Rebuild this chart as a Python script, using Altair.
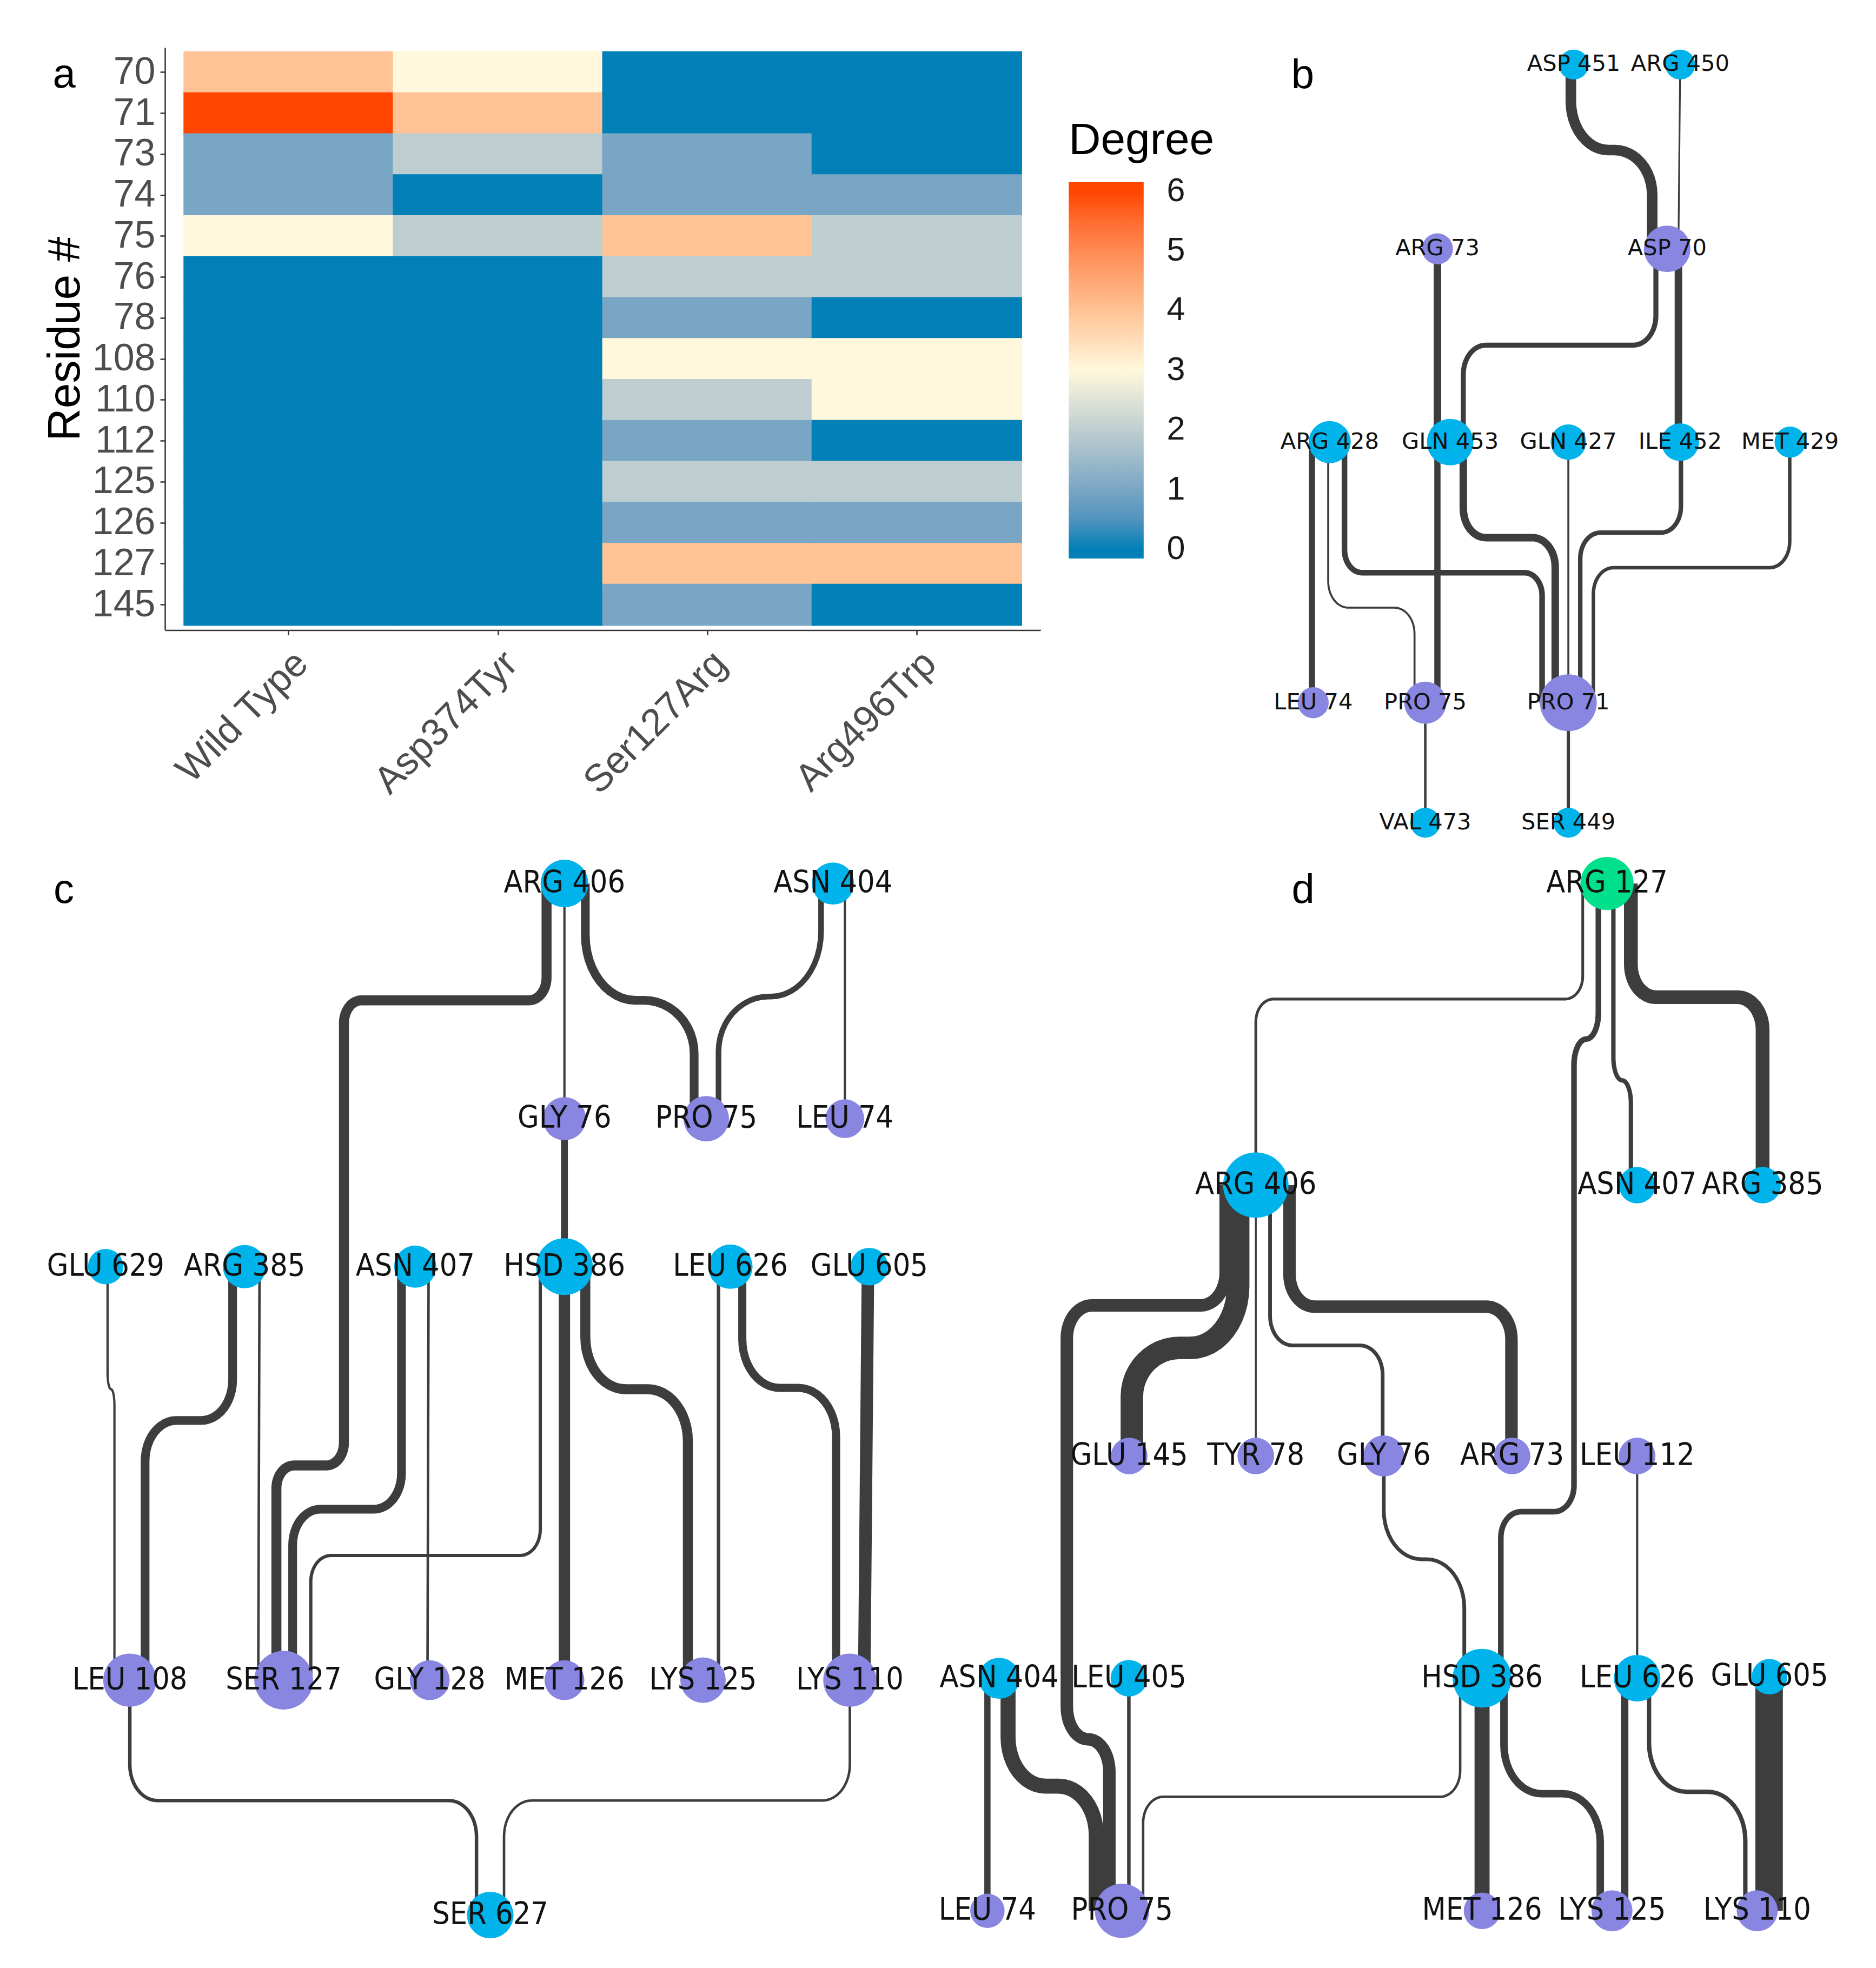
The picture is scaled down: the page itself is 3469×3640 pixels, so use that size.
import math
import altair as alt
import pandas as pd

# ---------------- geometry of the page (reference pixels / 2.3127 = "display units")
K = 2.3127
W, H = 3453, 3624
X0, X1 = 8 / K, (8 + W) / K
Y0, Y1 = 8 / K, (8 + H) / K


def PX(v):
    return (v - X0) * K


def PY(v):
    return (v - Y0) * K


FONT_A = "Liberation Sans, Arial, sans-serif"
FONT_B = "DejaVu Sans, Verdana, sans-serif"
FONT_CD = "DejaVu Sans Condensed, Liberation Sans Narrow, DejaVu Sans, sans-serif"
BLUE, PURPLE, GREEN = "#00B4EB", "#8886E0", "#00E08C"
EDGE = "#3D3D3D"

# ---------------- panel a : heat map data
variants = ["Wild Type", "Asp374Tyr", "Ser127Arg", "Arg496Trp"]
residues = ["70", "71", "73", "74", "75", "76", "78", "108", "110", "112", "125", "126", "127", "145"]
deg_wild_type = [4, 6, 1, 1, 3, 0, 0, 0, 0, 0, 0, 0, 0, 0]
deg_asp374tyr = [3, 4, 2, 0, 2, 0, 0, 0, 0, 0, 0, 0, 0, 0]
deg_ser127arg = [0, 0, 1, 1, 4, 2, 1, 3, 2, 1, 2, 1, 4, 1]
deg_arg496trp = [0, 0, 0, 1, 2, 2, 0, 3, 3, 0, 2, 1, 4, 0]
legend_values = [0, 1, 2, 3, 4, 5, 6]

# ---------------- panel b : network
b_names = ["ASP 451", "ARG 450", "ARG 73", "ASP 70", "ARG 428", "GLN 453", "GLN 427",
           "ILE 452", "MET 429", "LEU 74", "PRO 75", "PRO 71", "VAL 473", "SER 449"]
b_x = [1258.3, 1343.4, 1149.3, 1333.0, 1063.2, 1159.5, 1254.0, 1343.4, 1431.3, 1050.0, 1139.6, 1254.0, 1139.6, 1254.0]
b_y = [51.6, 51.6, 199.0, 199.0, 353.6, 353.6, 353.6, 353.6, 353.6, 562.0, 562.0, 562.0, 658.0, 658.0]
b_r = [13.5, 13.5, 14, 21, 19, 21, 16, 17, 14, 14, 19, 25.6, 13.5, 13.5]
b_kind = ["B", "B", "P", "P", "B", "B", "B", "B", "B", "P", "P", "P", "B", "B"]
# (source, target, x of each vertical run, y of each horizontal run, width, corner radius)
b_edges = [
    ("ASP 451", "ASP 70", [1256, 1321], [120], 8.5, 30),
    ("ARG 450", "ASP 70", [1343.4, 1342], [], 1.4, 0),
    ("ARG 73", "GLN 453", [1149.3], [], 6, 0),
    ("ASP 70", "GLN 453", [1324, 1170], [276], 4, 18),
    ("ASP 70", "ILE 452", [1342], [], 6, 0),
    ("ARG 428", "LEU 74", [1049], [], 5, 0),
    ("ARG 428", "PRO 75", [1062, 1131], [486], 1.6, 16),
    ("ARG 428", "PRO 71", [1075, 1233], [458], 4.5, 14),
    ("GLN 453", "PRO 75", [1149.3], [], 5, 0),
    ("GLN 453", "PRO 71", [1170, 1243.5], [430], 6, 18),
    ("GLN 427", "PRO 71", [1254], [], 1.6, 0),
    ("ILE 452", "PRO 71", [1344, 1263.5], [426], 3.6, 16),
    ("MET 429", "PRO 71", [1431, 1274], [454], 2.8, 16),
    ("PRO 75", "VAL 473", [1139.6], [], 2, 0),
    ("PRO 71", "SER 449", [1254], [], 2.6, 0),
]

# ---------------- panel c : network
c_names = ["ARG 406", "ASN 404", "GLY 76", "PRO 75", "LEU 74", "GLU 629", "ARG 385", "ASN 407",
           "HSD 386", "LEU 626", "GLU 605", "LEU 108", "SER 127", "GLY 128", "MET 126",
           "LYS 125", "LYS 110", "SER 627"]
c_x = [451.3, 666.0, 451.3, 564.7, 675.5, 84.5, 195.5, 332.0, 451.3, 584.0, 695.0,
       103.8, 226.8, 343.6, 451.3, 562.1, 679.5, 392.0]
c_y = [706.6, 706.6, 894.7, 894.7, 894.7, 1013.0, 1013.0, 1013.0, 1013.0, 1013.0, 1013.0,
       1343.7, 1343.7, 1343.7, 1343.7, 1343.7, 1343.7, 1531.6]
c_r = [21.5, 19, 19.5, 20.5, 17.5, 16, 19.5, 19, 25.6, 20, 17, 24, 26.5, 18, 18, 20.5, 24, 21]
c_kind = ["B", "B", "P", "P", "P", "B", "B", "B", "B", "B", "B", "P", "P", "P", "P", "P", "P", "B"]
c_edges = [
    ("ARG 406", "GLY 76", [451.3], [], 1.8, 0),
    ("ARG 406", "SER 127", [437, 275, 221], [800, 1172], 8, 14),
    ("ARG 406", "PRO 75", [468, 555], [800], 7, 40),
    ("ASN 404", "PRO 75", [656.5, 574.5], [797], 4.5, 40),
    ("ASN 404", "LEU 74", [675.5], [], 1.8, 0),
    ("GLY 76", "HSD 386", [451.3], [], 5.5, 0),
    ("GLU 629", "LEU 108", [86, 91.5], [1111], 1.8, 10),
    ("ARG 385", "LEU 108", [186, 116], [1136], 7, 25),
    ("ARG 385", "SER 127", [207.5, 206.5], [], 2, 0),
    ("ASN 407", "SER 127", [321, 234], [1207], 7, 22),
    ("ASN 407", "GLY 128", [342.7, 341.8], [], 2, 0),
    ("HSD 386", "SER 127", [432, 248.5], [1244], 2.6, 16),
    ("HSD 386", "MET 126", [451.3], [], 9, 0),
    ("HSD 386", "LYS 125", [468, 550], [1111], 8, 32),
    ("LEU 626", "LYS 125", [574.5], [], 2.8, 0),
    ("LEU 626", "LYS 110", [593.5, 668.5], [1110], 6.5, 30),
    ("GLU 605", "LYS 110", [694, 691], [], 10, 0),
    ("LEU 108", "SER 627", [103.8, 381], [1440], 2.8, 22),
    ("LYS 110", "SER 627", [679.5, 403], [1440], 2, 22),
]

# ---------------- panel d : network
d_names = ["ARG 127", "ARG 406", "ASN 407", "ARG 385", "GLU 145", "TYR 78", "GLY 76", "ARG 73",
           "LEU 112", "ASN 404", "LEU 405", "HSD 386", "LEU 626", "GLU 605", "LEU 74", "PRO 75",
           "MET 126", "LYS 125", "LYS 110"]
d_x = [1284.9, 1004.1, 1309.0, 1409.3, 902.9, 1004.1, 1106.4, 1209.0, 1309.0, 798.9, 902.6,
       1185.0, 1309.0, 1414.8, 789.5, 897.1, 1185.0, 1288.9, 1405.0]
d_y = [706.6, 947.8, 947.8, 947.8, 1164.4, 1164.4, 1164.4, 1164.4, 1164.4, 1342.2, 1342.2,
       1342.2, 1342.2, 1341.0, 1528.2, 1528.2, 1528.2, 1528.2, 1528.2]
d_r = [24, 29.5, 16.5, 16.5, 16.5, 16.5, 18.5, 16.5, 16.5, 18.5, 16.5, 26.5, 21, 16, 15.5, 24.5, 16.5, 18.5, 18.5]
d_kind = ["G", "B", "B", "B", "P", "P", "P", "P", "P", "B", "B", "B", "B", "B", "P", "P", "P", "P", "P"]
d_edges = [
    ("ARG 127", "ARG 406", [1265.5, 1004.1], [799], 2.2, 14),
    ("ARG 127", "HSD 386", [1278, 1258.5, 1200], [831, 1209], 4.5, 16),
    ("ARG 127", "ASN 407", [1290, 1304], [864], 3.5, 14),
    ("ARG 127", "ARG 385", [1304, 1409.3], [797.5], 11, 20),
    ("ARG 406", "PRO 75", [980, 853, 887], [1044, 1391], 10, 20),
    ("ARG 406", "GLU 145", [990, 905], [1078], 18, 38),
    ("ARG 406", "TYR 78", [1004.1], [], 1.5, 0),
    ("ARG 406", "GLY 76", [1015.5, 1105.5], [1076], 3, 18),
    ("ARG 406", "ARG 73", [1031, 1208.5], [1045], 10, 20),
    ("GLY 76", "HSD 386", [1106.4, 1170.8], [1247], 3, 30),
    ("LEU 112", "LEU 626", [1309], [], 1.8, 0),
    ("ASN 404", "LEU 74", [789.5], [], 5, 0),
    ("ASN 404", "PRO 75", [806, 876.5], [1428.5], 12, 30),
    ("LEU 405", "PRO 75", [902.6], [], 2.8, 0),
    ("HSD 386", "PRO 75", [1167.5, 914], [1437], 2, 16),
    ("HSD 386", "MET 126", [1185], [], 12, 0),
    ("HSD 386", "LYS 125", [1202.5, 1279.5], [1434.5], 6, 30),
    ("LEU 626", "LYS 125", [1299], [], 6, 0),
    ("LEU 626", "LYS 110", [1318.5, 1395.5], [1433], 3.5, 30),
    ("GLU 605", "LYS 110", [1414.5], [], 22, 0),
]

letters = ["a", "b", "c", "d"]
letter_x = [51.3, 1041.6, 51.0, 1041.9]
letter_y = [60.0, 60.5, 712.0, 712.0]

# ---------------- build tables
heat_rows = []
for v, arr in zip(variants, [deg_wild_type, deg_asp374tyr, deg_ser127arg, deg_arg496trp]):
    for r, d in zip(residues, arr):
        heat_rows.append({"variant": v, "residue": r, "degree": d})
heat_df = pd.DataFrame(heat_rows)

KIND_COL = {"B": BLUE, "P": PURPLE, "G": GREEN}


def route(xs, levels, ys, yt, R):
    pts = [(xs[0], ys)]
    if not levels:
        pts.append((xs[-1], yt))
        return pts
    ycur = ys
    n = 12
    for k, lv in enumerate(levels):
        xa, xb = xs[k], xs[k + 1]
        nxt = levels[k + 1] if k + 1 < len(levels) else yt
        dx = xb - xa
        s = 1 if dx >= 0 else -1
        rx = min(R, abs(dx) / 2.0)
        ry1 = min(R * 1.3, (lv - ycur) * 0.8)
        ry2 = min(R * 1.3, (nxt - lv) * 0.45)
        for j in range(n + 1):
            t = j / n * math.pi / 2
            pts.append((xa + s * rx * (1 - math.cos(t)), lv - ry1 + ry1 * math.sin(t)))
        for j in range(n + 1):
            t = j / n * math.pi / 2
            pts.append((xb - s * rx + s * rx * math.sin(t), lv + ry2 - ry2 * math.cos(t)))
        ycur = lv + ry2
    pts.append((xs[-1], yt))
    return pts


node_rows, edge_rows = [], []
eid = 0
for panel, names, xs_, ys_, rs_, ks_, edges in [
    ("b", b_names, b_x, b_y, b_r, b_kind, b_edges),
    ("c", c_names, c_x, c_y, c_r, c_kind, c_edges),
    ("d", d_names, d_x, d_y, d_r, d_kind, d_edges),
]:
    pos = {}
    for nm, x, y, r, kd in zip(names, xs_, ys_, rs_, ks_):
        pos[nm] = (x, y)
        node_rows.append({"panel": panel, "name": nm, "x": x, "y": y,
                          "area": math.pi * (r * K) ** 2, "col": KIND_COL[kd]})
    for src, tgt, xl, lv, w, R in edges:
        pts = route(xl, lv, pos[src][1], pos[tgt][1], R)
        for i, (px, py) in enumerate(pts):
            edge_rows.append({"eid": eid, "i": i, "x": px, "y": py, "w": w * K})
        eid += 1

nodes_df = pd.DataFrame(node_rows)
edge_df = pd.DataFrame(edge_rows)
letters_df = pd.DataFrame({"t": letters, "x": letter_x, "y": letter_y})

xsc = alt.Scale(domain=[X0, X1], nice=False, zero=False)
ysc = alt.Scale(domain=[Y0, Y1], nice=False, zero=False, reverse=True)

heat_scale = alt.Scale(domain=[-0.15, 0, 3, 6, 6.15],
                       range=["#0080B7", "#0080B7", "#FFF8DC", "#FF4500", "#FF4500"],
                       interpolate="lab")

# ---------------- layers
heat = alt.Chart(heat_df).mark_rect(strokeWidth=2).encode(
    x=alt.X("variant:N", sort=variants,
            scale=alt.Scale(range=[PX(131.9), PX(832.0)], paddingInner=0, paddingOuter=0.091),
            axis=alt.Axis(orient="bottom", offset=PY(504.0) - H, title="", labelAngle=315,
                          labelAlign="right", labelBaseline="top", labelFont=FONT_A,
                          labelFontSize=71, labelColor="#4D4D4D", labelPadding=17, labelOffset=0,
                          labelLimit=2000, tickSize=9, tickWidth=2.5, tickColor="#333333",
                          domainColor="#333333", domainWidth=2.5, grid=False)),
    y=alt.Y("residue:N", sort=residues,
            scale=alt.Scale(range=[PY(38.0), PY(503.6)], paddingInner=0, paddingOuter=0.107),
            axis=alt.Axis(orient="left", offset=-PX(131.9), title="Residue #", titleFont=FONT_A,
                          titleFontSize=84, titleFontWeight="normal", titleColor="#000000",
                          titlePadding=6, labelFont=FONT_A, labelFontSize=70, labelColor="#4D4D4D",
                          labelPadding=9, labelLimit=2000, tickSize=9, tickWidth=2.5,
                          tickColor="#333333", domainColor="#333333", domainWidth=2.5, grid=False)),
    color=alt.Color("degree:Q", scale=heat_scale,
                    legend=alt.Legend(orient="none", legendX=PX(854.5), legendY=PY(95.1),
                                      direction="vertical", title="Degree", titleFont=FONT_A,
                                      titleFontSize=82, titleFontWeight="normal", titleColor="#000000",
                                      titlePadding=35, titleLimit=2000, gradientLength=696,
                                      gradientThickness=138.6, gradientStrokeWidth=0,
                                      labelFont=FONT_A, labelFontSize=61, labelColor="#1A1A1A",
                                      labelOffset=42.8, labelLimit=2000, format="d",
                                      values=legend_values, padding=0)),
    stroke=alt.Stroke("degree:Q", scale=heat_scale, legend=None),
)

edges_layer = alt.Chart(edge_df).mark_line(color=EDGE, strokeCap="butt", strokeJoin="round").encode(
    x=alt.X("x:Q", scale=xsc, axis=None),
    y=alt.Y("y:Q", scale=ysc, axis=None),
    detail="eid:N",
    order="i:Q",
    strokeWidth=alt.StrokeWidth("w:Q", scale=None),
)

nodes_layer = alt.Chart(nodes_df).mark_circle(opacity=1, strokeWidth=0).encode(
    x=alt.X("x:Q", scale=xsc, axis=None),
    y=alt.Y("y:Q", scale=ysc, axis=None),
    size=alt.Size("area:Q", scale=None),
    color=alt.Color("col:N", scale=None),
)

labels_b = alt.Chart(nodes_df[nodes_df.panel == "b"]).mark_text(
    font=FONT_B, fontSize=41.6, color="#111111", align="center", baseline="middle").encode(
    x=alt.X("x:Q", scale=xsc, axis=None),
    y=alt.Y("y:Q", scale=ysc, axis=None),
    text="name:N",
)

labels_cd = alt.Chart(nodes_df[nodes_df.panel != "b"]).mark_text(
    font=FONT_CD, fontSize=57, color="#111111", align="center", baseline="middle").encode(
    x=alt.X("x:Q", scale=xsc, axis=None),
    y=alt.Y("y:Q", scale=ysc, axis=None),
    text="name:N",
)

letters_layer = alt.Chart(letters_df).mark_text(
    font=FONT_A, fontSize=76, color="#000000", align="center", baseline="middle").encode(
    x=alt.X("x:Q", scale=xsc, axis=None),
    y=alt.Y("y:Q", scale=ysc, axis=None),
    text="t:N",
)

chart = alt.layer(heat, edges_layer, nodes_layer, labels_b, labels_cd, letters_layer).resolve_scale(
    x="independent", y="independent", color="independent", size="independent"
).properties(
    width=W, height=H, padding=0, background="white",
    autosize=alt.AutoSizeParams(type="none"),
).configure_view(stroke="transparent")

chart.save("out.html", embed_options={"renderer": "svg", "actions": False})
